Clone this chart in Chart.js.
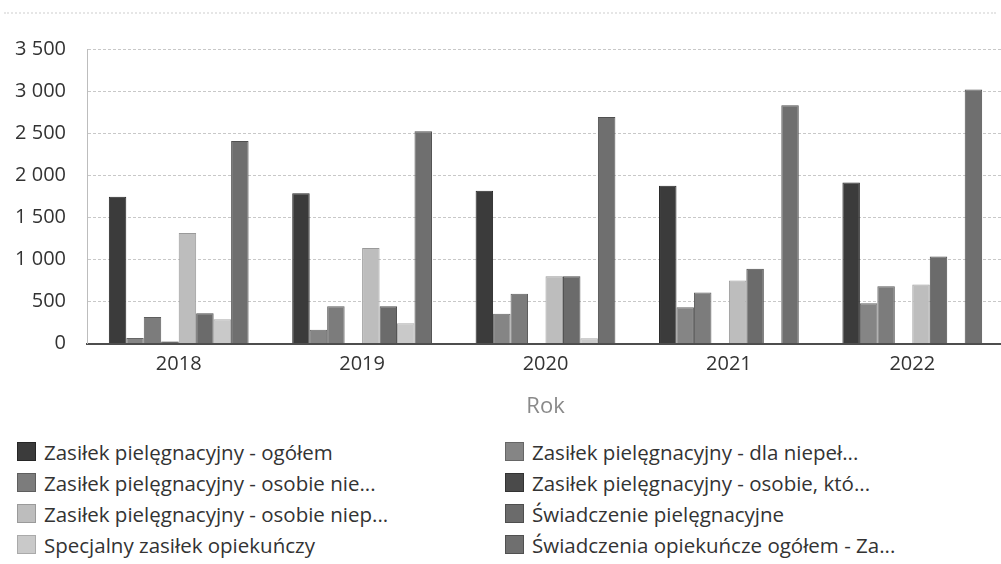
<!DOCTYPE html>
<html lang="pl">
<head>
<meta charset="utf-8">
<script src="https://cdn.jsdelivr.net/npm/chart.js@4"></script>
<style>
    html, body { margin: 0; padding: 0; background: #fff; overflow: hidden; }
    body { width: 1001px; height: 564px; position: relative; font-family: "Open Sans", sans-serif; }
    #topline { position: absolute; left: 4px; top: 12px; width: 992px; border-top: 2px dotted #e6e6e6; }
    #chartBox { position: absolute; left: 0; top: 0; width: 1005px; height: 424px; }
    #legend { position: absolute; left: 17px; top: 440px; width: 980px; display: grid;
              grid-template-columns: 488px 480px; row-gap: 8px; color: #333; font-size: 20.5px; }
    .item { display: flex; align-items: center; height: 23px; white-space: nowrap; }
    .box { width: 19px; height: 19px; margin-right: 8px; flex: none; }
</style>
</head>
<body>
<div id="topline"></div>
<div id="chartBox"><canvas id="chart"></canvas></div>
<div id="legend"></div>
<script>
// data
const years = ["2018", "2019", "2020", "2021", "2022"];

const seriesNames = [
    "Zasiłek pielęgnacyjny - ogółem",
    "Zasiłek pielęgnacyjny - dla niepeł...",
    "Zasiłek pielęgnacyjny - osobie nie...",
    "Zasiłek pielęgnacyjny - osobie, któ...",
    "Zasiłek pielęgnacyjny -  osobie niep...",
    "Świadczenie pielęgnacyjne",
    "Specjalny zasiłek opiekuńczy",
    "Świadczenia opiekuńcze ogółem - Za..."
];

const zpOgolem       = [1745, 1785, 1815, 1875, 1915];
const zpDlaNiepel    = [68, 165, 355, 432, 480];
const zpOsobieNie    = [315, 445, 592, 607, 680];
const zpOsobieKto    = [25, 0, 0, 0, 0];
const zpOsobieNiep   = [1315, 1135, 800, 750, 702];
const swPielegnacyjne = [362, 445, 800, 890, 1035];
const specjalnyZasilek = [288, 242, 63, 0, 0];
const swOpiekuncze   = [2408, 2522, 2692, 2832, 3020];

const yTicks = [0, 500, 1000, 1500, 2000, 2500, 3000, 3500];

const seriesValues = [zpOgolem, zpDlaNiepel, zpOsobieNie, zpOsobieKto,
                      zpOsobieNiep, swPielegnacyjne, specjalnyZasilek, swOpiekuncze];

const fills   = ["#3b3b3b", "#858585", "#7c7c7c", "#4a4a4a", "#bdbdbd", "#6b6b6b", "#c9c9c9", "#6f6f6f"];
const borders = ["#262626", "#666666", "#5e5e5e", "#333333", "#9a9a9a", "#4e4e4e", "#aaaaaa", "#505050"];

function fmt(v) {
    return String(v).replace(/\B(?=(\d{3})+(?!\d))/g, " ");
}

const chart = new Chart(document.getElementById("chart"), {
    type: "bar",
    data: {
        labels: years,
        datasets: seriesValues.map((vals, i) => ({
            label: seriesNames[i],
            data: vals,
            backgroundColor: fills[i],
            borderColor: borders[i],
            borderWidth: 1,
            barPercentage: 1.0,
            categoryPercentage: 0.762
        }))
    },
    options: {
        responsive: true,
        maintainAspectRatio: false,
        animation: false,
        layout: { padding: { top: 49, left: 0, right: 1, bottom: 0 } },
        plugins: { legend: { display: false }, tooltip: { enabled: false } },
        scales: {
            x: {
                grid: { display: false },
                border: { display: true, color: "#4d4d4d", width: 2 },
                ticks: { color: "#333", padding: 1, font: { family: "Open Sans", size: 20 } },
                title: {
                    display: true, text: "Rok", color: "#8a8a8a",
                    padding: { top: 16, bottom: 4 },
                    font: { family: "Open Sans", size: 22 }
                }
            },
            y: {
                min: 0,
                max: 3500,
                afterBuildTicks: scale => { scale.ticks = yTicks.map(v => ({ value: v })); },
                afterFit: scale => { scale.width = 87; },
                grid: { color: "#c8c8c8", drawTicks: false },
                border: { display: true, color: "#bdbdbd", width: 1, dash: [3, 2] },
                ticks: {
                    color: "#333", padding: 21,
                    font: { family: "Open Sans", size: 20 },
                    callback: v => fmt(v)
                }
            }
        }
    }
});

// two-column legend built from the chart datasets
const legend = document.getElementById("legend");
chart.data.datasets.forEach(ds => {
    const item = document.createElement("div");
    item.className = "item";
    const box = document.createElement("span");
    box.className = "box";
    box.style.background = ds.backgroundColor;
    box.style.border = "1px solid " + ds.borderColor;
    box.style.boxSizing = "border-box";
    const txt = document.createElement("span");
    txt.textContent = ds.label;
    item.appendChild(box);
    item.appendChild(txt);
    legend.appendChild(item);
});
</script>
</body>
</html>
